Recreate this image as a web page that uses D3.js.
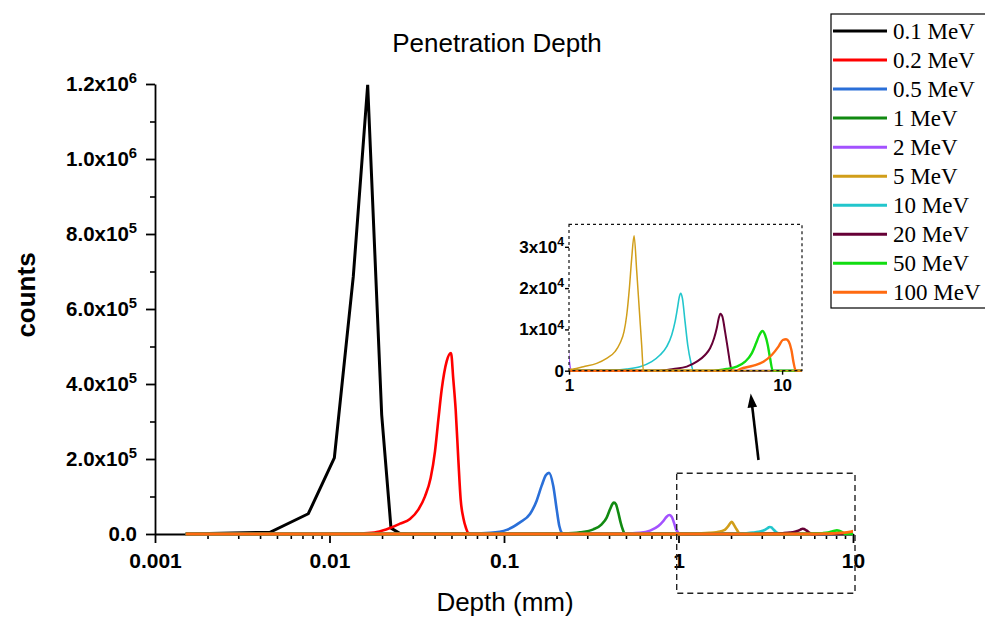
<!DOCTYPE html>
<html>
<head>
<meta charset="utf-8">
<script src="https://cdn.jsdelivr.net/npm/d3@7"></script>
<style>
  html, body { margin: 0; padding: 0; background: #fff; }
  svg { display: block; }
</style>
</head>
<body>
<svg id="chart" width="985" height="617"></svg>
<script>
// ---- Data: depth (mm) vs. counts for each beam energy ----
const seriesNames  = ["0.1 MeV", "0.2 MeV", "0.5 MeV", "1 MeV", "2 MeV", "5 MeV", "10 MeV", "20 MeV", "50 MeV", "100 MeV"];
const seriesColors = ["#000000", "#ff0000", "#2a6fd8", "#118a11", "#a352ff", "#d19e1a", "#22c6cc", "#660036", "#11dd11", "#ff6a10"];

const depth_0_1 = [0.0015, 0.00456, 0.00756, 0.01066, 0.01369, 0.01655, 0.01991, 0.02251, 0.02535, 0.0285, 12.4];
const counts_0_1 = [300, 4500, 54000, 203000, 687000, 1198000, 318000, 16000, 1500, 0, 0];

const depth_0_2 = [0.0015, 0.0125, 0.01563, 0.01864, 0.02222, 0.02535, 0.02892, 0.03229, 0.03526, 0.03799, 0.04023, 0.04205, 0.04394, 0.04692, 0.04969, 0.05124, 0.05285, 0.05474, 0.05646, 0.05848, 0.06056, 0.06246, 0.0655, 12.4];
const counts_0_2 = [0, 300, 1500, 5000, 16000, 27600, 40000, 64900, 100400, 149300, 220400, 304900, 384900, 460400, 482700, 411600, 331600, 198200, 91600, 42700, 16000, 2700, 0, 0];

const depth_0_5 = [0.0015, 0.05, 0.0639, 0.0832, 0.1036, 0.1235, 0.1409, 0.1539, 0.1644, 0.174, 0.1812, 0.1916, 0.2004, 0.2075, 0.2142, 0.22, 12.4];
const counts_0_5 = [0, 0, 500, 3000, 11000, 31100, 53300, 88900, 128900, 157400, 163000, 128000, 65800, 21300, 3500, 0, 0];

const depth_1 = [0.0015, 0.16, 0.2188, 0.2727, 0.325, 0.3628, 0.3876, 0.405, 0.4195, 0.4269, 0.4383, 0.452, 0.4662, 0.4828, 0.4957, 12.4];
const counts_1 = [0, 0, 1000, 4500, 12400, 25800, 43600, 65800, 80900, 83600, 79100, 56900, 30200, 8000, 0, 0];

const depth_2 = [0.0015, 0.4, 0.505, 0.602, 0.687, 0.767, 0.819, 0.855, 0.886, 0.914, 0.942, 0.968, 0.985, 1.0, 1.03, 12.4];
const counts_2 = [0, 0, 1000, 3000, 9000, 21300, 34700, 46200, 50500, 46200, 30200, 12400, 7000, 3000, 0, 0];

const depth_5 = [0.0015, 0.9, 1.0, 1.048, 1.168, 1.349, 1.502, 1.644, 1.735, 1.812, 1.866, 1.92, 1.969, 2.02, 2.078, 2.139, 2.194, 2.234, 12.4];
const counts_5 = [0, 0, 300, 410, 980, 1780, 2990, 4610, 6630, 9450, 13490, 19940, 27210, 32700, 24220, 14540, 6060, 0, 0];

const depth_10 = [0.0015, 1.557, 1.866, 2.154, 2.444, 2.674, 2.874, 3.034, 3.146, 3.237, 3.296, 3.344, 3.406, 3.504, 3.607, 3.726, 3.835, 12.4];
const counts_10 = [0, 100, 410, 980, 2190, 3800, 5820, 8640, 11870, 15500, 17930, 18730, 17520, 11870, 6220, 2190, 0, 0];

const depth_20 = [0.0015, 2.674, 3.089, 3.568, 3.977, 4.35, 4.592, 4.795, 4.935, 5.043, 5.134, 5.247, 5.4, 5.558, 5.7, 5.803, 12.4];
const counts_20 = [0, 0, 410, 980, 2190, 3800, 5420, 7840, 10260, 12680, 13810, 13080, 9450, 5420, 1780, 0, 0];

const depth_50 = [0.0015, 4.76, 5.498, 6.126, 6.706, 7.204, 7.548, 7.826, 8.084, 8.321, 8.564, 8.784, 9.041, 12.4];
const counts_50 = [0, 0, 410, 980, 2190, 4200, 6630, 8640, 9610, 8640, 6220, 2990, 0, 0];

const depth_100 = [0.0015, 6.13, 6.352, 7.334, 8.172, 8.944, 9.612, 10.07, 10.44, 10.75, 11.06, 11.3, 11.59, 12.4];
const counts_100 = [0, 0, 410, 1220, 2190, 3800, 5820, 7430, 7600, 7030, 5010, 2190, 0, 0];

// Tick labels
const xTickValues = [0.001, 0.01, 0.1, 1, 10];
const xTickLabels = ["0.001", "0.01", "0.1", "1", "10"];
const yTickValues = [0, 200000, 400000, 600000, 800000, 1000000, 1200000];
const yTickMantissa = ["0.0", "2.0x10", "4.0x10", "6.0x10", "8.0x10", "1.0x10", "1.2x10"];
const yTickExponent = ["", "5", "5", "5", "5", "6", "6"];

const insetXTickValues = [1, 10];
const insetXTickLabels = ["1", "10"];
const insetYTickValues = [0, 10000, 20000, 30000];
const insetYTickMantissa = ["0", "1x10", "2x10", "3x10"];
const insetYTickExponent = ["", "4", "4", "4"];

const depths = [depth_0_1, depth_0_2, depth_0_5, depth_1, depth_2, depth_5, depth_10, depth_20, depth_50, depth_100];
const counts = [counts_0_1, counts_0_2, counts_0_5, counts_1, counts_2, counts_5, counts_10, counts_20, counts_50, counts_100];
const series = seriesNames.map((name, i) => ({
  name, color: seriesColors[i],
  points: depths[i].map((d, j) => ({ x: d, y: counts[i][j] }))
}));

// ---- Layout ----
const SANS = "'Liberation Sans', Arial, sans-serif";
const SERIF = "'Liberation Serif', 'Times New Roman', serif";
const svg = d3.select("#chart");

const x = d3.scaleLog().domain([0.001, 10]).range([155, 853]);
const y = d3.scaleLinear().domain([0, 1200000]).range([534, 84]);

const xi = d3.scaleLog().domain([1, 12.4]).range([569, 802]);
const yi = d3.scaleLinear().domain([0, 35450]).range([370.7, 224.3]);

// ---- Clip regions ----
const defs = svg.append("defs");
defs.append("clipPath").attr("id", "mainClip").append("rect")
  .attr("x", x.range()[0]).attr("y", y.range()[1]).attr("width", x.range()[1] - x.range()[0]).attr("height", 12 + y.range()[0] - y.range()[1]);
defs.append("clipPath").attr("id", "insetClip").append("rect")
  .attr("x", xi.range()[0]).attr("y", yi.range()[1]).attr("width", xi.range()[1] - xi.range()[0]).attr("height", yi.range()[0] - yi.range()[1] + 2);

// ---- Superscript helper for tick labels ----
function addExponents(sel, exps) {
  sel.selectAll(".tick text").each(function (d, i) {
    const e = exps[i];
    if (e) {
      d3.select(this).append("tspan")
        .attr("dy", "-0.55em")
        .attr("font-size", "0.72em")
        .text(e);
    }
  });
}

// ---- Title ----
svg.append("text")
  .attr("x", 497).attr("y", 52)
  .attr("text-anchor", "middle")
  .attr("font-family", SANS).attr("font-size", 26)
  .text("Penetration Depth");

// ---- Main axes ----
const xMinor = x.ticks().filter(v => !xTickValues.some(t => Math.abs(t - v) / t < 1e-9));
const yMinor = d3.range(100000, 1200000, 200000);

const gxMinor = svg.append("g").attr("transform", `translate(0,${y(0)})`)
  .call(d3.axisBottom(x).tickValues(xMinor).tickSize(5).tickSizeOuter(0).tickFormat(() => ""));
gxMinor.select(".domain").remove();
gxMinor.selectAll("line").attr("stroke-width", 1.6);

const gx = svg.append("g").attr("transform", `translate(0,${y(0)})`)
  .call(d3.axisBottom(x).tickValues(xTickValues).tickSize(9).tickSizeOuter(0).tickPadding(10)
    .tickFormat((d, i) => xTickLabels[i]));
gx.attr("font-family", SANS).attr("font-size", 21).attr("font-weight", "bold");
gx.selectAll("line").attr("stroke-width", 1.8);
gx.select(".domain").attr("stroke-width", 1.8);

const gyMinor = svg.append("g").attr("transform", `translate(${x(0.001)},0)`)
  .call(d3.axisLeft(y).tickValues(yMinor).tickSize(5).tickSizeOuter(0).tickFormat(() => ""));
gyMinor.select(".domain").remove();
gyMinor.selectAll("line").attr("stroke-width", 1.6);

const gy = svg.append("g").attr("transform", `translate(${x(0.001)},0)`)
  .call(d3.axisLeft(y).tickValues(yTickValues).tickSize(9).tickSizeOuter(0).tickPadding(9)
    .tickFormat((d, i) => yTickMantissa[i]));
gy.attr("font-family", SANS).attr("font-size", 20.5).attr("font-weight", "bold");
gy.selectAll("line").attr("stroke-width", 1.8);
gy.select(".domain").attr("stroke-width", 1.8);
addExponents(gy, yTickExponent);

// Axis titles
svg.append("text")
  .attr("x", 505).attr("y", 611)
  .attr("text-anchor", "middle")
  .attr("font-family", SANS).attr("font-size", 26)
  .text("Depth (mm)");
svg.append("text")
  .attr("transform", "translate(35,295) rotate(-90)")
  .attr("text-anchor", "middle")
  .attr("font-family", SANS).attr("font-size", 26).attr("font-weight", "bold")
  .text("counts");

// ---- Main curves ----
const lineMain = d3.line().x(d => x(d.x)).y(d => y(d.y));
const mainWidths = [3, 2.6, 2.6, 2.6, 2.6, 2.6, 2.6, 2.6, 2.6, 2.8];
const gMain = svg.append("g").attr("clip-path", "url(#mainClip)");
series.forEach((s, i) => {
  gMain.append("path")
    .datum(s.points)
    .attr("fill", "none")
    .attr("stroke", s.color)
    .attr("stroke-width", mainWidths[i])
    .attr("stroke-linejoin", "miter")
    .attr("d", lineMain.curve(i === 0 ? d3.curveLinear : d3.curveMonotoneX)(s.points));
});

// ---- Zoom box and arrow ----
svg.append("rect")
  .attr("x", 676.7).attr("y", 473.3).attr("width", 178.3).attr("height", 120)
  .attr("fill", "none").attr("stroke", "#222").attr("stroke-width", 1.4)
  .attr("stroke-dasharray", "6,4");

const arrowFrom = [758.5, 460], arrowTip = [750.7, 393.5];
{
  const dx = arrowTip[0] - arrowFrom[0], dy = arrowTip[1] - arrowFrom[1];
  const len = Math.hypot(dx, dy), ux = dx / len, uy = dy / len;
  const nx = -uy, ny = ux, headL = 14, headW = 4.8;
  const bx = arrowTip[0] - headL * ux, by = arrowTip[1] - headL * uy;
  svg.append("line")
    .attr("x1", arrowFrom[0]).attr("y1", arrowFrom[1])
    .attr("x2", bx + 2 * ux).attr("y2", by + 2 * uy)
    .attr("stroke", "#000").attr("stroke-width", 2.6);
  svg.append("polygon")
    .attr("points", [[arrowTip[0], arrowTip[1]], [bx + headW * nx, by + headW * ny], [bx - headW * nx, by - headW * ny]].map(p => p.join(",")).join(" "))
    .attr("fill", "#000");
}

// ---- Inset ----
const insetOrder = [4, 6, 7, 8, 9, 5];
const insetWidths = { 4: 1.6, 5: 1.5, 6: 1.6, 7: 2, 8: 2.4, 9: 2.4 };
const lineInset = d3.line().x(d => xi(d.x)).y(d => yi(d.y)).curve(d3.curveMonotoneX);
const gInset = svg.append("g").attr("clip-path", "url(#insetClip)");
insetOrder.forEach(i => {
  gInset.append("path")
    .datum(series[i].points)
    .attr("fill", "none")
    .attr("stroke", series[i].color)
    .attr("stroke-width", insetWidths[i])
    .attr("d", lineInset);
});

svg.append("rect")
  .attr("x", xi.range()[0]).attr("y", yi.range()[1])
  .attr("width", xi.range()[1] - xi.range()[0]).attr("height", yi.range()[0] - yi.range()[1])
  .attr("fill", "none").attr("stroke", "#111").attr("stroke-width", 1.2)
  .attr("stroke-dasharray", "3,3");

const gix = svg.append("g").attr("transform", `translate(0,${yi(0)})`)
  .call(d3.axisBottom(xi).tickValues(insetXTickValues).tickSize(4).tickSizeOuter(0).tickPadding(4)
    .tickFormat((d, i) => insetXTickLabels[i]));
gix.select(".domain").remove();
gix.attr("font-family", SANS).attr("font-size", 17).attr("font-weight", "bold");
gix.selectAll("line").attr("stroke-width", 1.4);

const giy = svg.append("g").attr("transform", `translate(${xi(1)},0)`)
  .call(d3.axisLeft(yi).tickValues(insetYTickValues).tickSize(4).tickSizeOuter(0).tickPadding(1)
    .tickFormat((d, i) => insetYTickMantissa[i]));
giy.select(".domain").remove();
giy.attr("font-family", SANS).attr("font-size", 17).attr("font-weight", "bold");
giy.selectAll("line").attr("stroke-width", 1.4);
addExponents(giy, insetYTickExponent);

// ---- Legend ----
const legend = svg.append("g");
legend.append("rect")
  .attr("x", 831).attr("y", 14).attr("width", 170).attr("height", 294)
  .attr("fill", "#fff").attr("stroke", "#000").attr("stroke-width", 1.2);
const rowY = d3.scalePoint().domain(seriesNames).range([31, 292.3]);
seriesNames.forEach((name, i) => {
  const yy = rowY(name);
  legend.append("line")
    .attr("x1", 833).attr("x2", 887).attr("y1", yy).attr("y2", yy)
    .attr("stroke", seriesColors[i]).attr("stroke-width", 3);
  legend.append("text")
    .attr("x", 893).attr("y", yy + 7.5)
    .attr("font-family", SERIF).attr("font-size", 23)
    .text(name);
});
</script>
</body>
</html>
